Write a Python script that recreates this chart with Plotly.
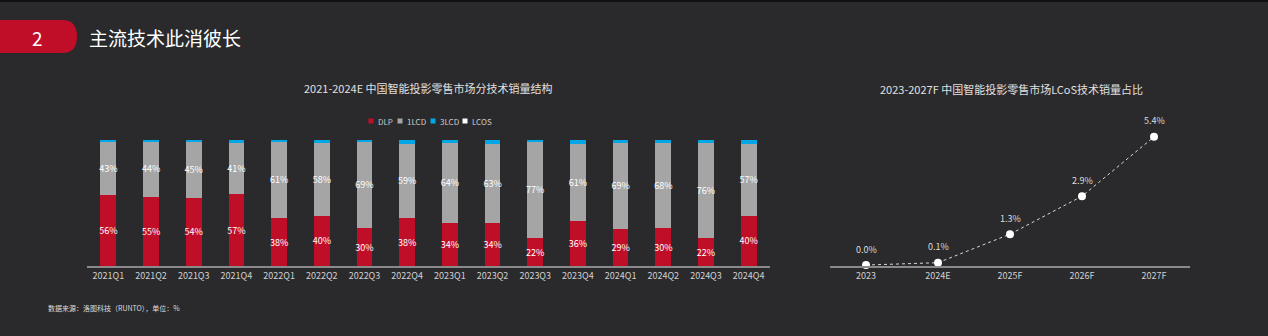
import plotly.graph_objects as go

W, H = 1268, 336

quarters = ["2021Q1", "2021Q2", "2021Q3", "2021Q4", "2022Q1", "2022Q2", "2022Q3", "2022Q4",
            "2023Q1", "2023Q2", "2023Q3", "2023Q4", "2024Q1", "2024Q2", "2024Q3", "2024Q4"]
dlp = [56, 55, 54, 57, 38, 40, 30, 38, 34, 34, 22, 36, 29, 30, 22, 40]
lcd1 = [43, 44, 45, 41, 61, 58, 69, 59, 64, 63, 77, 61, 69, 68, 76, 57]
lcd3 = [1, 1, 1, 2, 1, 2, 1, 3, 2, 3, 1, 3, 2, 2, 2, 3]
lcos = [0, 0, 0, 0, 0, 0, 0, 0, 0, 0, 0, 0, 0, 0, 0, 0]

years = ["2023", "2024E", "2025F", "2026F", "2027F"]
lcos_share = [0.0, 0.1, 1.3, 2.9, 5.4]

series_names = ["DLP", "1LCD", "3LCD", "LCOS"]
series_colors = ["#c00d28", "#a5a5a5", "#00a6e6", "#ffffff"]

FONT = "Noto Sans CJK SC"
BG = "#2a2a2c"


def px(x):
    return x / W


def py(y):
    return (H - y) / H


fig = go.Figure()

series_vals = [dlp, lcd1, lcd3, lcos]
for name, vals, col in zip(series_names, series_vals, series_colors):
    show_text = name in ("DLP", "1LCD")
    fig.add_trace(go.Bar(
        x=quarters, y=vals, name=name, marker=dict(color=col, line=dict(width=0)),
        width=0.37,
        text=[f"{v}%" for v in vals] if show_text else None,
        textposition="inside" if show_text else "none",
        insidetextanchor="middle", textangle=0, constraintext="none",
        textfont=dict(color="#ffffff", size=9, family=FONT),
        xaxis="x", yaxis="y", showlegend=False,
    ))

fig.add_trace(go.Scatter(
    x=years, y=lcos_share, mode="lines+markers",
    line=dict(color="#d8d8d8", width=1, dash="dot"),
    marker=dict(color="white", size=8),
    cliponaxis=False, xaxis="x2", yaxis="y2", showlegend=False,
))

shapes = []
annotations = []

for i, v in enumerate(lcos_share):
    annotations.append(dict(text=f"{v:.1f}%", x=i, y=v, xref="x2", yref="y2",
                            xanchor="center", yanchor="middle", yshift=16, showarrow=False,
                            font=dict(color="#dddddd", size=9, family=FONT)))


def note(text, x, y, size, color, xanchor="center", **kw):
    annotations.append(dict(text=text, x=px(x), y=py(y), xref="paper", yref="paper",
                            xanchor=xanchor, yanchor="middle", showarrow=False,
                            font=dict(color=color, size=size, family=FONT), **kw))


# header badge
shapes.append(dict(
    type="path", xref="paper", yref="paper",
    path=(f"M 0 {py(20)} L {px(62)} {py(20)} "
          f"Q {px(77)} {py(20)} {px(77)} {py(36.5)} "
          f"Q {px(77)} {py(53)} {px(62)} {py(53)} L 0 {py(53)} Z"),
    fillcolor="#c00d28", line=dict(width=0), layer="above"))
shapes.append(dict(type="rect", xref="paper", yref="paper", x0=0, x1=1, y0=py(2), y1=1,
                   fillcolor="#111111", line=dict(width=0)))
note("2", 37, 37, 19, "white")
note("主流技术此消彼长", 87, 37, 19, "white", xanchor="left")

# chart titles
note("2021-2024E 中国智能投影零售市场分技术销量结构", 428, 88, 11, "#e0e0e0")
note("2023-2027F 中国智能投影零售市场LCoS技术销量占比", 1011, 89, 11, "#e0e0e0")

# legend
leg_x = [371, 400, 433, 465]
for name, col, lx in zip(series_names, series_colors, leg_x):
    shapes.append(dict(type="rect", xref="paper", yref="paper",
                       x0=px(lx - 2.5), x1=px(lx + 2.5), y0=py(123.5), y1=py(118.5),
                       fillcolor=col, line=dict(width=0)))
    note(name, lx + 5, 121, 8, "#cccccc", xanchor="left")

# footnote
note("数据来源：洛图科技（RUNTO），单位：%", 46, 308, 7, "#dddddd", xanchor="left")

fig.update_layout(
    width=W, height=H,
    margin=dict(l=0, r=0, t=0, b=0),
    paper_bgcolor=BG, plot_bgcolor="rgba(0,0,0,0)",
    barmode="stack", bargap=0.6,
    font=dict(family=FONT, color="#d0d0d0"),
    xaxis=dict(domain=[px(87), px(770)], showgrid=False, showline=True, linecolor="#8a8a8a",
               linewidth=1.5, ticks="", tickfont=dict(size=9, color="#d0d0d0"), fixedrange=True,
               zeroline=False),
    yaxis=dict(domain=[py(266), py(140)], range=[0, 100], visible=False, fixedrange=True),
    xaxis2=dict(domain=[px(830), px(1190)], anchor="y2", type="category", showgrid=False,
                showline=True, linecolor="#8a8a8a", linewidth=1.5, ticks="",
                tickfont=dict(size=9, color="#d0d0d0"), fixedrange=True, zeroline=False,
                range=[-0.5, 4.5]),
    yaxis2=dict(domain=[py(266), py(122.6)], range=[-0.04, 6], visible=False, anchor="x2",
                fixedrange=True),
    shapes=shapes, annotations=annotations,
)

fig.write_html("out.html", config={"displayModeBar": False})
